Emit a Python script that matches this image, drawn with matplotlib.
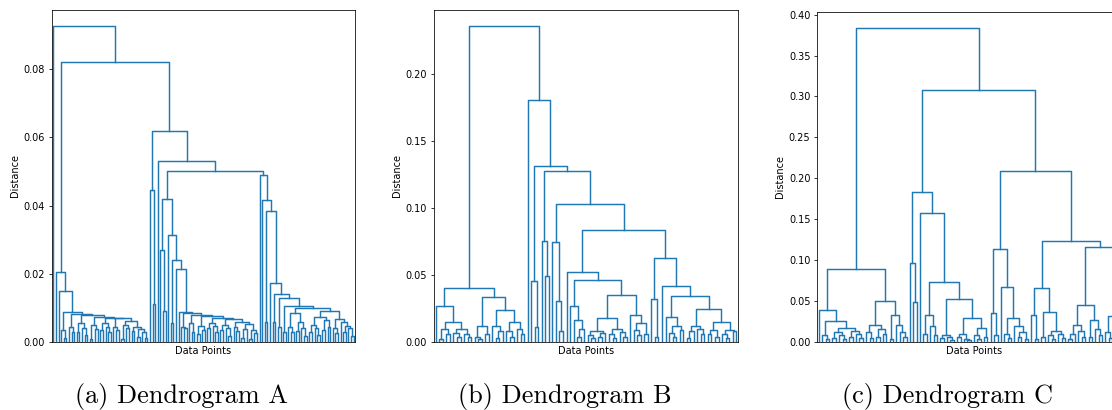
import matplotlib.pyplot as plt

L = 0  # a single data point

# each node: (merge distance, left, right)
a_left_small = (0.0035, L, (0.0012, L, L))
a_left_comb = (0.0083, (0.0045, L, (0.0030, L, L)),
               (0.0078, (0.0055, (0.0030, L, L), (0.0042, L, (0.0020, L, L))),
                (0.0074, (0.0050, (0.0010, L, L), (0.0038, L, L)),
                 (0.0071, (0.0055, (0.0035, L, L), (0.0044, L, (0.0028, L, L))),
                  (0.0069, (0.0045, L, (0.0036, L, L)),
                   (0.0063, (0.0050, (0.0008, L, L), (0.0040, L, L)),
                    (0.0043, (0.0032, L, L), (0.0038, (0.0015, L, L), (0.0030, L, (0.0012, L, L))))))))))
a_cluster_left = (0.0206, L, (0.0149, L, (0.0089, a_left_small, a_left_comb)))
a_pair = (0.0445, L, (0.011, L, L))
a_mid_comb = (0.0088, L,
              (0.0085, (0.0045, L, (0.0040, L, L)),
               (0.0080, (0.0055, L, (0.0030, L, L)),
                (0.0076, (0.0048, (0.0022, L, L), (0.0035, L, L)),
                 (0.0070, (0.0055, (0.0040, L, L), (0.0046, L, (0.0030, L, L))),
                  (0.0066, (0.0050, (0.0036, L, L), (0.0042, L, (0.0018, L, L))),
                   (0.0058, (0.0045, L, (0.0032, L, L)),
                    (0.0052, (0.0038, (0.0012, L, L), L), (0.0036, (0.0010, L, L), (0.0025, L, L))))))))))
a_cluster_mid = (0.042, (0.027, L, (0.009, L, L)),
                 (0.0315, L, (0.024, (0.0055, L, L), (0.0215, L, a_mid_comb))))
a_tail_z = (0.0085, (0.0045, L, (0.0030, L, L)), (0.0060, (0.0032, L, L), (0.0040, L, (0.0018, L, L))))
a_tail_w = (0.0092, (0.0074, (0.0050, (0.0030, L, L), (0.0042, L, (0.0020, L, L))),
                     (0.0064, (0.0035, L, L), (0.0045, L, L))),
            (0.0068, (0.0040, L, (0.0025, L, L)),
             (0.0058, L, (0.0048, (0.0030, L, L), (0.0040, L, (0.0018, L, L))))))
a_cluster_right = (0.049, L, (0.0415, L, (0.0385, (0.0058, L, L),
                   (0.0172, L, (0.014, (0.006, L, L),
                    (0.013, (0.0045, L, L), (0.0105, (0.0030, L, L), (0.0101, a_tail_z, a_tail_w))))))))
tree_a = (0.0927, L, (0.082, a_cluster_left,
                      (0.062, a_pair, (0.053, L, (0.050, a_cluster_mid, a_cluster_right)))))

b_left_a = (0.0271, L, (0.0152, (0.0095, (0.0025, L, L), (0.006, L, L)),
                        (0.010, (0.007, L, (0.004, L, L)), (0.006, L, (0.0035, L, L)))))
b_left_b = (0.0334, (0.012, (0.004, L, (0.002, L, L)), (0.006, L, L)),
            (0.0239, (0.012, L, (0.008, (0.003, L, L), L)),
             (0.0147, (0.008, L, (0.004, L, L)), (0.0095, L, (0.006, L, L)))))
b_left = (0.0401, b_left_a, b_left_b)
b_mid_a = (0.0458, L, (0.011, L, L))
b_mid_b = (0.0755, L, (0.049, L, L))
b_mid_c = (0.075, L, (0.031, L, (0.008, L, L)))
b_low_a = (0.0272, L, (0.0165, L, (0.010, (0.004, L, L), L)))
b_low_b = (0.0182, (0.008, (0.005, L, (0.003, L, L)), (0.0065, (0.004, L, L), L)),
           (0.0095, (0.006, L, (0.003, L, L)), (0.0075, L, (0.004, L, L))))
b_low_c = (0.0202, L, (0.014, (0.009, L, (0.005, L, L)), (0.006, L, L)))
b_right_a = (0.0324, L, (0.004, L, L))
b_right_b = (0.019, L, (0.012, (0.007, L, (0.004, L, L)), (0.009, L, L)))
b_right_c = (0.0244, (0.012, (0.008, (0.003, L, L), L), (0.010, L, (0.006, L, L))),
             (0.0147, (0.009, (0.006, L, L), (0.004, L, L)),
              (0.009, (0.006, L, (0.003, L, L)), (0.008, L, L))))
b_right = (0.0625, b_right_a, (0.0418, L, (0.0346, b_right_b, b_right_c)))
b_main = (0.0834, (0.0525, L, (0.0467, b_low_a, (0.0351, b_low_b, b_low_c))), b_right)
tree_b = (0.2364, b_left, (0.1808, L, (0.1317, b_mid_a, (0.1277, b_mid_b, (0.1031, b_mid_c, b_main)))))

c_a = (0.0391, L, (0.0257, (0.008, L, (0.004, L, L)),
                   (0.0175, (0.012, (0.005, L, L), (0.009, L, (0.004, L, L))),
                    (0.014, (0.006, L, L), (0.010, L, (0.005, L, L))))))
c_b = (0.0501, (0.0204, (0.012, L, (0.005, L, L)), (0.016, (0.006, L, L), (0.010, L, L))),
       (0.033, (0.004, L, L), (0.021, L, (0.012, L, (0.006, L, L)))))
c_left = (0.0892, c_a, c_b)
c_c = (0.0969, L, (0.0485, L, L))
c_d = (0.0733, (0.033, (0.010, L, L), (0.020, L, (0.008, L, L))),
       (0.0522, (0.0086, (0.005, L, L), (0.006, L, (0.003, L, L))),
        (0.0297, (0.010, (0.006, L, L), (0.004, L, (0.002, L, L))),
         (0.017, (0.008, L, (0.004, L, L)), (0.006, L, L)))))
c_mid = (0.1829, c_c, (0.158, L, c_d))
c_e = (0.1137, (0.0353, L, (0.008, L, L)),
       (0.0676, L, (0.0297, (0.010, L, (0.005, L, L)), (0.020, L, (0.012, (0.006, L, L), (0.004, L, L))))))
c_f = (0.0664, (0.033, L, (0.004, L, L)),
       (0.0363, (0.006, L, L), (0.014, (0.008, L, (0.004, L, L)), (0.010, L, (0.005, L, L)))))
c_g = (0.1165, (0.0452, (0.0204, (0.010, (0.004, L, L), L), (0.013, L, (0.006, L, L))),
                (0.0265, (0.006, L, L), (0.016, L, (0.008, L, L)))),
       (0.032, (0.012, L, (0.005, L, L)), (0.020, (0.008, L, L), (0.015, L, (0.006, L, L)))))
c_right = (0.2094, c_e, (0.1234, c_f, c_g))
tree_c = (0.384, c_left, (0.3076, c_mid, c_right))

captions = ['(a) Dendrogram A', '(b) Dendrogram B', '(c) Dendrogram C']


def walk(node, segs, count):
    if node == L:
        x = 5.0 + 10.0 * count[0]
        count[0] += 1
        return x, 0.0
    h, left, right = node
    xl, hl = walk(left, segs, count)
    xr, hr = walk(right, segs, count)
    segs.append(([xl, xl, xr, xr], [hl, h, h, hr]))
    return (xl + xr) / 2, h


def draw(ax, tree):
    segs = []
    count = [0]
    walk(tree, segs, count)
    for xs, ys in segs:
        ax.plot(xs, ys, color='C0', lw=1.5)
    ax.set_xlim(0, 10 * count[0])
    ax.set_ylim(0, tree[0] * 1.05)
    ax.set_xticks([])
    ax.set_xlabel('Data Points')
    ax.set_ylabel('Distance')


fig = plt.figure(figsize=(1112 / 70, 410 / 70), dpi=70)
axes = [fig.add_axes([52 / 1112, 68 / 410, 303 / 1112, 332 / 410]),
        fig.add_axes([434 / 1112, 68 / 410, 304 / 1112, 332 / 410]),
        fig.add_axes([817.3 / 1112, 68 / 410, 313.4 / 1112, 330 / 410])]
for ax, tree in zip(axes, [tree_a, tree_b, tree_c]):
    draw(ax, tree)

for xc, cap in zip([181.5, 565, 948], captions):
    fig.text(xc / 1112, 1 - 397 / 410, cap, ha='center', va='center',
             family='cmr10', size=27)

fig.savefig('out.png', dpi=70)
